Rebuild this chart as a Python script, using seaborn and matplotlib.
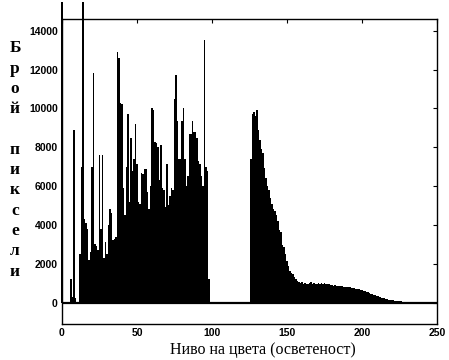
import numpy as np
import pandas as pd
import matplotlib
matplotlib.use("Agg")
import matplotlib.pyplot as plt
import seaborn as sns

# брой пиксели за нива 0..98 (лявата част на хистограмата)
left_counts = [
    15500, 0, 0, 0, 0, 0, 1200, 300, 8900, 250,
    0, 0, 2500, 7000, 15500, 4300, 4100, 3800, 2200, 2600,
    7000, 11800, 3000, 2900, 2700, 7600, 3800, 7600, 2300, 3100,
    2500, 4000, 4800, 4600, 3200, 3300, 3400, 12900, 12600, 10300,
    10200, 5900, 4500, 7000, 9700, 5200, 8500, 6800, 7400, 9200,
    7150, 5200, 5100, 6650, 6600, 6900, 6900, 5700, 4800, 6000,
    10000, 9900, 8250, 8200, 8000, 6300, 8100, 5900, 5800, 4900,
    7150, 5000, 5500, 5900, 5800, 10500, 11700, 9350, 7400, 7400,
    9350, 10000, 7400, 6000, 6500, 8700, 8700, 9350, 8800, 8800,
    8500, 7300, 7150, 6500, 6000, 13500, 7000, 6800, 1200,
]
# нива 126..235 (дясната част)
right_start = 126
right_counts = [
    7400, 9700, 9800, 9600, 9900, 8900, 8350, 7900, 7700, 6950,
    6400, 6000, 5800, 5400, 5100, 4800, 4700, 4500, 4200, 3750,
    3650, 2950, 2850, 2500, 2150, 1900, 1650, 1550, 1450, 1300,
    1200, 1100, 1050, 1000, 1050, 950, 1000, 950, 980, 1000,
    1050, 950, 1000, 980, 950, 1000, 980, 1020, 950, 1000,
    980, 950, 960, 900, 920, 880, 900, 880, 870, 860,
    850, 840, 820, 830, 800, 790, 780, 770, 760, 740,
    720, 700, 690, 660, 640, 620, 590, 560, 530, 500,
    470, 440, 410, 380, 350, 320, 290, 260, 240, 220,
    200, 180, 160, 140, 120, 110, 100, 90, 80, 70,
    60, 50, 45, 40, 35, 30, 25, 20, 15, 10,
]
x_ticks = [0, 50, 100, 150, 200, 250]
y_ticks = [0, 2000, 4000, 6000, 8000, 10000, 12000, 14000]

levels = list(range(len(left_counts))) + list(range(right_start, right_start + len(right_counts)))
df = pd.DataFrame({"level": levels, "count": left_counts + right_counts})

sns.set_theme(style="white")
plt.rcParams["font.family"] = ["Liberation Sans", "DejaVu Sans"]

fig = plt.figure(figsize=(4.49, 3.6), dpi=100)
ax = fig.add_axes([62 / 449, 1 - 324 / 360, 375 / 449, 305 / 360])

sns.histplot(data=df, x="level", weights="count", binwidth=1, binrange=(-0.5, 255.5),
             color="black", alpha=1, linewidth=0, element="bars", ax=ax)
# някои стълбове излизат над рамката като в оригинала
for p in ax.patches:
    p.set_clip_on(False)
    p.set_zorder(1)

ax.axhline(0, color="black", linewidth=1.6, zorder=3)
ax.set_xlim(0, 250)
ax.set_ylim(-1100, 14600)
ax.set_xticks(x_ticks)
ax.set_yticks(y_ticks)
ax.tick_params(direction="in", length=3, width=0.8, top=True, right=True,
               labelsize=7.5, colors="black", pad=3)
for lbl in ax.get_xticklabels() + ax.get_yticklabels():
    lbl.set_fontweight("bold")
for s in ax.spines.values():
    s.set_color("black")
    s.set_linewidth(1.0)
    s.set_zorder(4)
ax.set_xlabel("")
ax.set_ylabel("")

serif = ["Liberation Serif", "DejaVu Serif"]
fig.text(263 / 449, 1 - 350 / 360, "Ниво на цвета (осветеност)", ha="center", va="center",
         fontsize=11.5, family=serif, color="black")
fig.text(15 / 449, 1 - 160 / 360, "Б\nр\nо\nй\n\nп\nи\nк\nс\nе\nл\nи", ha="center", va="center",
         fontsize=12.5, linespacing=1.36, family=serif, fontweight="bold", color="black")

fig.savefig("out.png", dpi=100, facecolor="white")
